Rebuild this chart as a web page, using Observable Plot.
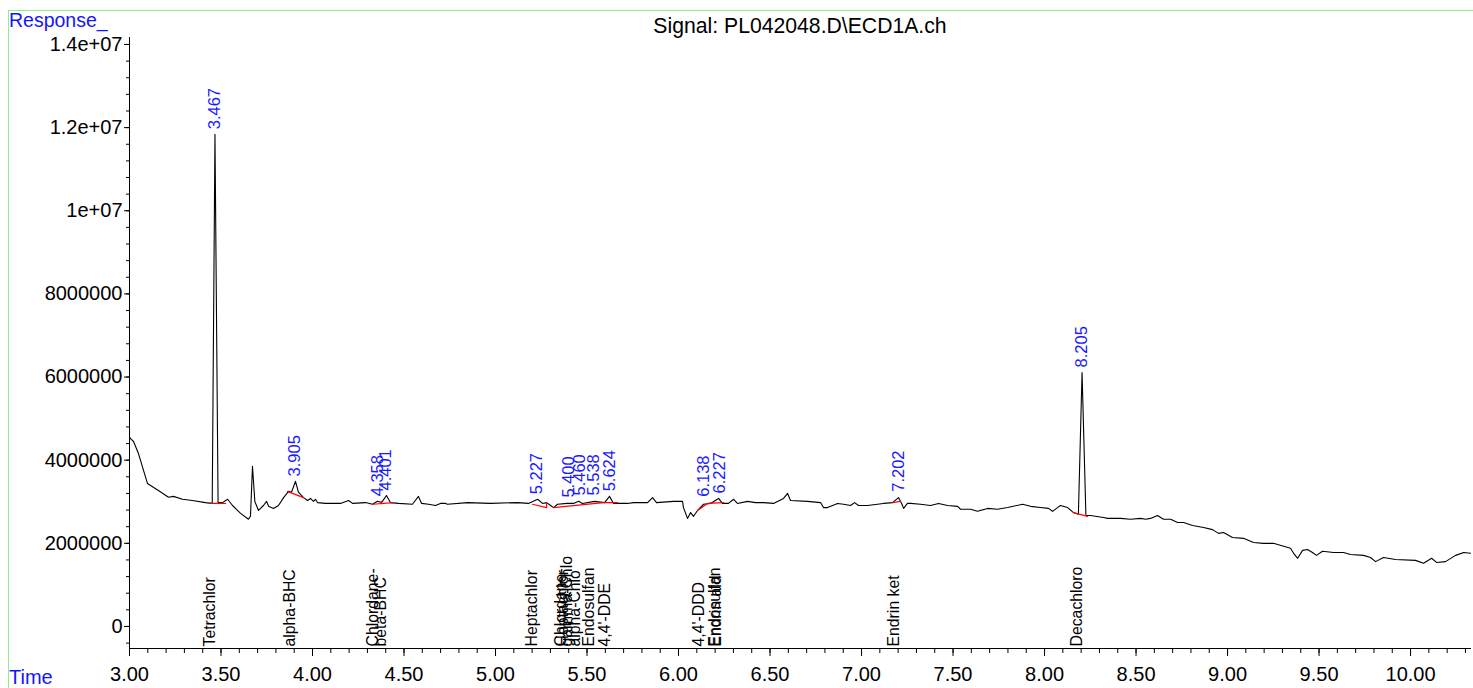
<!DOCTYPE html>
<html>
<head>
<meta charset="utf-8">
<script src="https://cdn.jsdelivr.net/npm/d3@7"></script>
<script src="https://cdn.jsdelivr.net/npm/@observablehq/plot@0.6"></script>
<style>
  html, body { margin: 0; padding: 0; background: #fff; }
  #wrap { position: relative; width: 1473px; height: 688px; overflow: hidden; font-family: "Liberation Sans", Arial, sans-serif; }
  #frame { position: absolute; left: 8px; top: 10px; width: 1480px; height: 700px; border: 1px solid #8cf08c; box-sizing: border-box; pointer-events: none; }
  .lbl { position: absolute; white-space: nowrap; line-height: 1; }
  #resp { left: 9px; top: 11px; font-size: 19.5px; color: #1414ff; }
  #time { left: 9px; top: 667px; font-size: 20px; color: #1414ff; }
  #title { left: 800px; top: 15px; font-size: 21.2px; color: #000; transform: translateX(-50%); }
  svg { position: absolute; left: 0; top: 0; }
</style>
</head>
<body>
<div id="wrap">
  <div id="frame"></div>
  <div class="lbl" id="resp">Response_</div>
  <div class="lbl" id="time">Time</div>
  <div class="lbl" id="title">Signal: PL042048.D\ECD1A.ch</div>
</div>
<script>
// ---- chromatogram trace (time in min, response) ----
const traceTime = [
  3.000, 3.010, 3.022, 3.049, 3.098, 3.158, 3.213, 3.240, 3.290, 3.344, 3.415,
  3.452, 3.467, 3.484, 3.508, 3.536, 3.563, 3.607, 3.650, 3.661, 3.672,
  3.685, 3.694, 3.705, 3.732, 3.749, 3.760, 3.787, 3.814, 3.842, 3.869,
  3.885, 3.907, 3.923, 3.951, 3.973, 3.989, 4.005, 4.016, 4.027, 4.071,
  4.153, 4.197, 4.219, 4.290, 4.328, 4.355, 4.377, 4.404, 4.426, 4.470,
  4.546, 4.579, 4.596, 4.634, 4.672, 4.699, 4.727, 4.738, 4.847, 4.973,
  5.120, 5.180, 5.230, 5.257, 5.279, 5.301, 5.317, 5.339, 5.393, 5.426,
  5.454, 5.475, 5.541, 5.596, 5.623, 5.645, 5.721, 5.754, 5.831, 5.858,
  5.880, 5.973, 6.022, 6.027, 6.049, 6.066, 6.082, 6.104, 6.137, 6.175,
  6.219, 6.240, 6.273, 6.301, 6.322, 6.377, 6.421, 6.464, 6.519, 6.574,
  6.596, 6.612, 6.705, 6.776, 6.792, 6.814, 6.842, 6.869, 6.902, 6.940,
  6.962, 6.984, 7.033, 7.087, 7.120, 7.169, 7.202, 7.219, 7.230, 7.251,
  7.268, 7.322, 7.377, 7.421, 7.470, 7.525, 7.541, 7.596, 7.634, 7.689,
  7.743, 7.798, 7.880, 7.923, 7.978, 8.022, 8.044, 8.071, 8.087, 8.126,
  8.158, 8.185, 8.205, 8.226, 8.251, 8.322, 8.344, 8.415, 8.470, 8.525,
  8.552, 8.579, 8.617, 8.650, 8.689, 8.727, 8.760, 8.809, 8.869, 8.918,
  8.951, 8.978, 9.027, 9.087, 9.142, 9.197, 9.251, 9.306, 9.344, 9.361,
  9.383, 9.410, 9.437, 9.464, 9.486, 9.519, 9.579, 9.634, 9.672, 9.743,
  9.781, 9.809, 9.852, 9.918, 10.027, 10.071, 10.115, 10.142, 10.191, 10.246,
  10.290, 10.328
];
const traceResp = [
  4550000, 4500000, 4450000, 4160000, 3440000, 3270000, 3110000, 3130000, 3060000, 3030000, 2980000,
  2960000, 11840000, 2980000, 2980000, 3060000, 2910000, 2720000, 2580000, 2650000, 3850000,
  3000000, 2910000, 2790000, 2910000, 3010000, 2890000, 2840000, 2910000, 3100000, 3250000,
  3230000, 3490000, 3230000, 3100000, 3030000, 3080000, 3010000, 3060000, 2980000, 2960000,
  2960000, 3030000, 2960000, 2980000, 2940000, 3010000, 2980000, 3150000, 2980000, 2960000,
  2940000, 3130000, 2960000, 2940000, 2910000, 2960000, 2960000, 2940000, 2980000, 2960000,
  2980000, 2960000, 3060000, 2960000, 2980000, 2910000, 2860000, 2940000, 2960000, 2960000,
  3010000, 2960000, 3010000, 2980000, 3130000, 2960000, 2960000, 2980000, 2980000, 3100000,
  2980000, 3010000, 3010000, 2860000, 2600000, 2740000, 2650000, 2790000, 2940000, 2960000,
  3080000, 2960000, 2960000, 3060000, 2960000, 3010000, 2980000, 2980000, 2960000, 3080000,
  3200000, 3030000, 3010000, 2980000, 2860000, 2860000, 2910000, 2960000, 2940000, 2910000,
  2980000, 2910000, 2910000, 2940000, 2960000, 2980000, 3100000, 2960000, 2840000, 2960000,
  2960000, 2940000, 2910000, 2960000, 2910000, 2890000, 2820000, 2820000, 2770000, 2840000,
  2820000, 2860000, 2940000, 2890000, 2860000, 2840000, 2770000, 2860000, 2910000, 2860000,
  2740000, 2700000, 6110000, 2670000, 2670000, 2620000, 2600000, 2600000, 2580000, 2600000,
  2580000, 2600000, 2670000, 2580000, 2580000, 2500000, 2500000, 2430000, 2380000, 2330000,
  2240000, 2260000, 2140000, 2120000, 2020000, 2000000, 2000000, 1930000, 1880000, 1760000,
  1640000, 1830000, 1850000, 1780000, 1710000, 1810000, 1780000, 1780000, 1730000, 1710000,
  1660000, 1560000, 1660000, 1610000, 1590000, 1520000, 1640000, 1540000, 1560000, 1710000,
  1780000, 1760000
];

// ---- integration baselines (red) ----
const blId   = ["a","a","b","b","c","c","d","d","e","e","e","f","f","f","g","g","g","h","h","i","i"];
const blTime = [3.448, 3.525, 3.863, 3.951, 4.328, 4.443, 4.377, 4.377, 5.202, 5.279, 5.279,
                5.317, 5.590, 5.667, 6.104, 6.158, 6.246, 7.169, 7.213, 8.158, 8.235];
const blResp = [2960000, 2960000, 3250000, 3100000, 2940000, 2980000, 2955000, 3010000, 2940000, 2860000, 2980000,
                2860000, 2980000, 2980000, 2790000, 2960000, 2980000, 2980000, 3010000, 2740000, 2650000];

// ---- retention-time labels (blue) ----
const rtLabel = ["3.467","3.905","4.358","4.401","5.227","5.400","5.460","5.538","5.624","6.138","6.227","7.202","8.205"];
const rtTime  = [3.467, 3.905, 4.358, 4.401, 5.227, 5.400, 5.460, 5.538, 5.624, 6.138, 6.227, 7.202, 8.205];
const rtApex  = [11840000, 3490000, 3010000, 3150000, 3060000, 2980000, 3030000, 3030000, 3130000, 3000000, 3080000, 3120000, 6110000];

// ---- compound names (black, at bottom) ----
const cmpName = ["Tetrachlor","alpha-BHC","Chlordane-","beta-BHC","Heptachlor","Chlordane-","Heptachlor","gamma-Chlo","alpha-Chlo","Endosulfan","4,4'-DDE","4,4'-DDD","Endosulfan","Endrin ald","Endrin ket","Decachloro"];
const cmpTime = [3.467, 3.905, 4.358, 4.401, 5.227, 5.385, 5.395, 5.420, 5.462, 5.540, 5.626, 6.138, 6.225, 6.232, 7.202, 8.205];

// ---- axes ----
const xDomain = [3.0, 10.333];
const yDomain = [-530000, 14168000];
const xTicks = [3.0, 3.5, 4.0, 4.5, 5.0, 5.5, 6.0, 6.5, 7.0, 7.5, 8.0, 8.5, 9.0, 9.5, 10.0];
const xTickLabels = ["3.00","3.50","4.00","4.50","5.00","5.50","6.00","6.50","7.00","7.50","8.00","8.50","9.00","9.50","10.00"];
const yTicks = [0, 2000000, 4000000, 6000000, 8000000, 10000000, 12000000, 14000000];
const yTickLabels = ["0","2000000","4000000","6000000","8000000","1e+07","1.2e+07","1.4e+07"];
const xMinor = d3.range(30, 104).map(d => d / 10);
const yMinor = d3.range(-1, 36).map(d => d * 400000);

const trace = traceTime.map((t, i) => ({t, v: traceResp[i]}));
const baselines = blTime.map((t, i) => ({t, v: blResp[i], id: blId[i]}));
const rts = rtTime.map((t, i) => ({t, v: rtApex[i], label: rtLabel[i]}));
const cmps = cmpTime.map((t, i) => ({t, name: cmpName[i]}));
const xFmt = new Map(xTicks.map((d, i) => [d, xTickLabels[i]]));
const yFmt = new Map(yTicks.map((d, i) => [d, yTickLabels[i]]));

const chart = Plot.plot({
  width: 1473,
  height: 688,
  marginLeft: 129,
  marginRight: 2,
  marginTop: 37,
  marginBottom: 40,
  style: {fontFamily: "'Liberation Sans', Arial, sans-serif", background: "transparent", color: "#000", overflow: "visible"},
  x: {domain: xDomain},
  y: {domain: yDomain},
  marks: [
    Plot.axisY({ticks: yMinor.filter(d => d >= yDomain[0] && d <= yDomain[1]), tickSize: 3, text: null, label: null}),
    Plot.axisY({ticks: yTicks, tickFormat: d => yFmt.get(d), tickSize: 5, tickPadding: 2, fontSize: 20, label: null}),
    Plot.axisX({ticks: xMinor.filter(d => d <= xDomain[1]), tickSize: 5, text: null, label: null}),
    Plot.axisX({ticks: xTicks, tickFormat: d => xFmt.get(d), tickSize: 8, tickPadding: 10, fontSize: 20, label: null}),
    Plot.ruleX([xDomain[0]], {stroke: "#000"}),
    Plot.ruleY([yDomain[0]], {stroke: "#000"}),
    Plot.line(trace, {x: "t", y: "v", stroke: "#000", strokeWidth: 1.1}),
    Plot.line(baselines, {x: "t", y: "v", z: "id", stroke: "#ff0000", strokeWidth: 1.2}),
    Plot.text(rts, {x: "t", y: "v", text: "label", rotate: -90, textAnchor: "start", dy: -5, fill: "#1a1aff", fontSize: 16.5}),
    Plot.text(cmps, {x: "t", frameAnchor: "bottom", text: "name", rotate: -90, textAnchor: "start", dy: -2, fill: "#000", fontSize: 15.8})
  ]
});
document.getElementById("wrap").appendChild(chart);
</script>
</body>
</html>
